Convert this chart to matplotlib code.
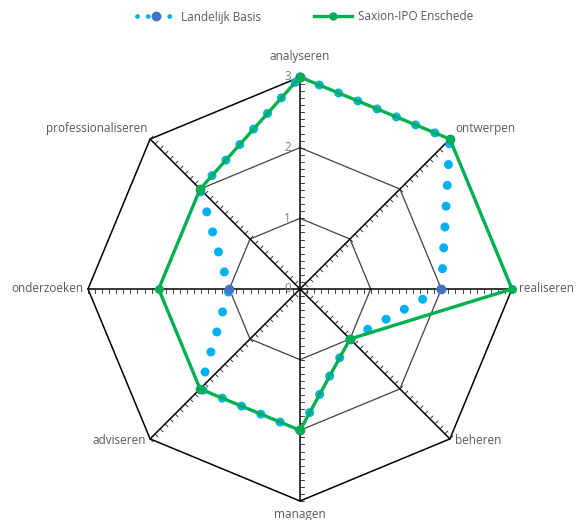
import numpy as np
import matplotlib
matplotlib.use("Agg")
import matplotlib.pyplot as plt
from matplotlib.lines import Line2D

plt.rcParams['font.family'] = ['Open Sans', 'DejaVu Sans']

categories = ["analyseren", "ontwerpen", "realiseren", "beheren",
              "managen", "adviseren", "onderzoeken", "professionaliseren"]
landelijk_basis = [3, 3, 2, 1, 2, 2, 1, 2]
saxion_ipo = [3, 3, 3, 1, 2, 2, 2, 2]
tick_values = [0, 1, 2, 3]
series_names = ["Landelijk Basis", "Saxion-IPO Enschede"]

W, H = 576, 520
cx, cy = 300, 289
px_per_unit = 212 / 3.0

fig = plt.figure(figsize=(W / 100, H / 100), dpi=100)
ax = fig.add_axes([0, 0, 1, 1])
ax.set_xlim(-cx / px_per_unit, (W - cx) / px_per_unit)
ax.set_ylim(-(H - cy) / px_per_unit, cy / px_per_unit)
ax.set_axis_off()

n = len(categories)
angles = np.deg2rad(90 - 45 * np.arange(n))
rmax = max(tick_values)

def xy(vals):
    v = np.asarray(vals, dtype=float)
    x = v * np.cos(angles)
    y = v * np.sin(angles)
    return np.append(x, x[0]), np.append(y, y[0])

# grid octagons
for t in tick_values[1:]:
    gx, gy = xy([t] * n)
    if t == rmax:
        ax.plot(gx, gy, color="black", lw=1.1, zorder=1)
    else:
        ax.plot(gx, gy, color="#404040", lw=0.9, zorder=1)

# spokes with minor ticks
tick_len = 4.0 / px_per_unit
for a in angles:
    dx, dy = np.cos(a), np.sin(a)
    ax.plot([0, rmax * dx], [0, rmax * dy], color="black", lw=1.1, zorder=2)
    line_ang = np.rad2deg(a) % 180
    if abs(line_ang - 180) < 1e-6:
        line_ang = 0
    ta = np.deg2rad(line_ang - 90)
    tx, ty = np.cos(ta) * tick_len, np.sin(ta) * tick_len
    for k in range(1, int(rmax * 10) + 1):
        r = k / 10
        px, py = r * dx, r * dy
        ax.plot([px, px + tx], [py, py + ty], color="#222222", lw=0.6, zorder=2)

# radial tick labels
for t in tick_values:
    ax.annotate(str(t), (0, t), xytext=(-9, 0), textcoords="offset pixels",
                ha="right", va="center", fontsize=8.5,
                color="#808080", zorder=3)

# series
bx, by = xy(landelijk_basis)
ax.plot(bx, by, color="#00B0F0", lw=6.5, linestyle=(0, (0.01, 2.3)),
        dash_capstyle="round", zorder=4)
ax.plot(bx, by, linestyle="none", marker="o", ms=6, color="#4472C4", zorder=5)

sx, sy = xy(saxion_ipo)
ax.plot(sx, sy, color="#00B050", lw=2.4, marker="o", ms=5.5,
        solid_joinstyle="miter", zorder=6)

# category labels
label_cfg = {
    0: ((0, 14), "center", "bottom"),
    1: ((5, 4), "left", "bottom"),
    2: ((7, 0), "left", "center"),
    3: ((5, -2), "left", "center"),
    4: ((0, -7), "center", "top"),
    5: ((-4, -2), "right", "center"),
    6: ((-4, 0), "right", "center"),
    7: ((-3, 4), "right", "bottom"),
}
for i, cat in enumerate(categories):
    off, ha, va = label_cfg[i]
    ax.annotate(cat, (rmax * np.cos(angles[i]), rmax * np.sin(angles[i])),
                xytext=off, textcoords="offset pixels", ha=ha, va=va,
                fontsize=8.5, color="#595959", zorder=7)

handles = [
    Line2D([], [], color="#00B0F0", lw=3.5, linestyle=(0, (0.01, 2.2)),
           dash_capstyle="round", marker="o", ms=6, markerfacecolor="#4472C4",
           markeredgecolor="#4472C4"),
    Line2D([], [], color="#00B050", lw=2.4, marker="o", ms=5),
]
fig.legend(handles, series_names, loc="center", bbox_to_anchor=(0.53, 1 - 17 / H),
           ncol=2, frameon=False, fontsize=8.5, handlelength=3.2,
           columnspacing=4.5, handletextpad=0.5, labelcolor="#595959")

fig.savefig("out.png", dpi=100)
